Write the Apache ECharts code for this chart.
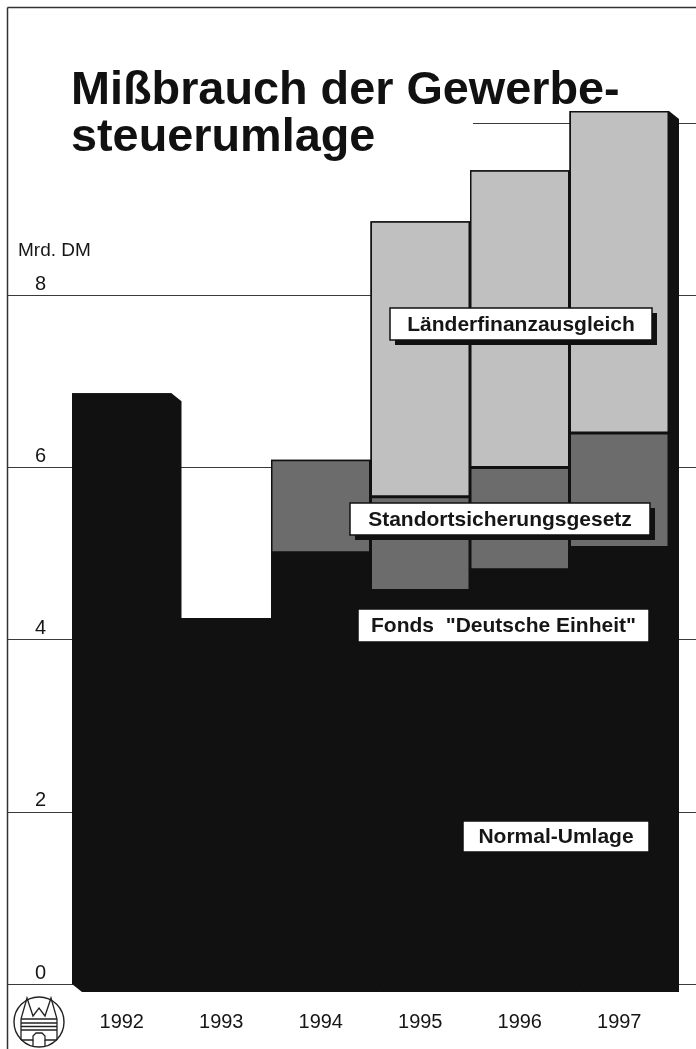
<!DOCTYPE html>
<html>
<head>
<meta charset="utf-8">
<script src="https://cdn.jsdelivr.net/npm/echarts@6/dist/echarts.min.js"></script>
<style>
html,body{margin:0;padding:0;background:#fff;}
#chart{width:696px;height:1049px;}
</style>
</head>
<body>
<div id="chart"></div>
<script>
// ---- data (Mrd. DM) ----
const years = ['1992', '1993', '1994', '1995', '1996', '1997'];
const normalUmlage = [6.86, 4.25, 5.01, 4.57, 4.81, 5.07];      // black (Normal-Umlage / Fonds "Deutsche Einheit")
const standortsicherung = [null, null, 1.08, 1.09, 1.19, 1.33]; // dark grey
const laenderfinanz = [null, null, null, 3.20, 3.45, 3.74];      // light grey
const yMin = 0, yMax = 10, yStep = 2;

const totals = years.map((_, i) => normalUmlage[i] + (standortsicherung[i] || 0) + (laenderfinanz[i] || 0));

const FONT = '"Liberation Sans", Arial, Helvetica, sans-serif';
const INK = '#161616';
const TOPZ = 100;

const chart = echarts.init(document.getElementById('chart'), null, {renderer: 'canvas'});

function labelBox(text, x, y, w, h, shadow) {
  const els = [];
  if (shadow) {
    els.push({type: 'rect', z: TOPZ, shape: {x: x + 5, y: y + 5, width: w, height: h}, style: {fill: '#111'}});
  }
  els.push({type: 'rect', z: TOPZ + 1, shape: {x: x, y: y, width: w, height: h}, style: {fill: '#fff', stroke: '#111', lineWidth: 1.5}});
  els.push({type: 'text', z: TOPZ + 2, style: {text: text, x: x + w / 2, y: y + h / 2 + 1, align: 'center', verticalAlign: 'middle',
    font: 'bold 21px ' + FONT, fill: INK}});
  return els;
}

const LS = {stroke: '#222', lineWidth: 1.3};
const logo = [
  {type: 'circle', z: TOPZ, shape: {cx: 39, cy: 1022, r: 25}, style: {fill: '#fff', stroke: '#222', lineWidth: 1.4}},
  {type: 'polyline', z: TOPZ + 1, shape: {points: [[21, 1019], [27, 998], [33, 1016], [39, 1008], [45, 1016], [51, 998], [57, 1019]]}, style: Object.assign({fill: null}, LS)},
  {type: 'line', z: TOPZ + 1, shape: {x1: 21, y1: 1019, x2: 57, y2: 1019}, style: LS},
  {type: 'line', z: TOPZ + 1, shape: {x1: 21, y1: 1023, x2: 57, y2: 1023}, style: LS},
  {type: 'line', z: TOPZ + 1, shape: {x1: 21, y1: 1026.5, x2: 57, y2: 1026.5}, style: LS},
  {type: 'line', z: TOPZ + 1, shape: {x1: 21, y1: 1030, x2: 57, y2: 1030}, style: LS},
  {type: 'line', z: TOPZ + 1, shape: {x1: 21, y1: 1019, x2: 21, y2: 1040}, style: LS},
  {type: 'line', z: TOPZ + 1, shape: {x1: 57, y1: 1019, x2: 57, y2: 1040}, style: LS},
  {type: 'polyline', z: TOPZ + 1, shape: {points: [[21, 1040], [33, 1040], [33, 1036], [36, 1033], [42, 1033], [45, 1036], [45, 1040], [57, 1040]]}, style: Object.assign({fill: null}, LS)},
  {type: 'line', z: TOPZ + 1, shape: {x1: 33, y1: 1040, x2: 33, y2: 1046}, style: LS},
  {type: 'line', z: TOPZ + 1, shape: {x1: 45, y1: 1040, x2: 45, y2: 1046}, style: LS}
];

const option = {
  backgroundColor: '#ffffff',
  animation: false,
  grid: [
    {left: 8, right: 0, top: 123, bottom: 65},
    {left: 72, right: 27, top: 123, bottom: 65}
  ],
  xAxis: [
    {gridIndex: 0, type: 'value', min: 0, max: 1, show: false},
    {gridIndex: 1, type: 'category', data: years,
      axisLine: {show: false}, axisTick: {show: false},
      axisLabel: {margin: 28, fontSize: 20, color: INK, fontFamily: FONT}}
  ],
  yAxis: [
    {gridIndex: 0, type: 'value', min: yMin, max: yMax, interval: yStep,
      axisLine: {show: false}, axisTick: {show: false},
      axisLabel: {inside: true, margin: 27, align: 'left', verticalAlign: 'bottom', padding: [0, 0, 1, 0],
        fontSize: 20, color: INK, fontFamily: FONT,
        formatter: v => (v === yMax ? '' : String(v))},
      splitLine: {show: true, lineStyle: {color: '#3a3a3a', width: 1.2}}},
    {gridIndex: 1, type: 'value', min: yMin, max: yMax, interval: yStep, show: false, splitLine: {show: false}}
  ],
  series: [
    {
      type: 'custom', name: 'Tiefe', xAxisIndex: 1, yAxisIndex: 1, z: 1, clip: false, silent: true,
      data: years.map((_, i) => [i, totals[i]]),
      renderItem: function (params, api) {
        const i = api.value(0), t = api.value(1);
        const top = api.coord([i, t]);
        const base = api.coord([i, 0]);
        const w = api.size([1, 0])[0];
        const x0 = top[0] - w / 2, x1 = top[0] + w / 2;
        const dx = 10, dy = 8;
        return {type: 'polygon', shape: {points: [[x0, top[1]], [x1, top[1]], [x1 + dx, top[1] + dy], [x1 + dx, base[1] + dy], [x0 + dx, base[1] + dy], [x0, base[1]]]},
          style: {fill: '#111'}};
      }
    },
    {
      type: 'bar', name: 'Normal-Umlage', xAxisIndex: 1, yAxisIndex: 1, stack: 'g', z: 2, clip: false,
      barWidth: '100%', barCategoryGap: '0%',
      itemStyle: {color: '#111', borderColor: '#111', borderWidth: 1.5},
      data: normalUmlage.map(v => (v == null ? '-' : v))
    },
    {
      type: 'bar', name: 'Standortsicherungsgesetz', xAxisIndex: 1, yAxisIndex: 1, stack: 'g', z: 2, clip: false,
      barWidth: '100%', barCategoryGap: '0%',
      itemStyle: {color: '#6c6c6c', borderColor: '#111', borderWidth: 1.5},
      data: standortsicherung.map(v => (v == null ? '-' : v))
    },
    {
      type: 'bar', name: 'Länderfinanzausgleich', xAxisIndex: 1, yAxisIndex: 1, stack: 'g', z: 2, clip: false,
      barWidth: '100%', barCategoryGap: '0%',
      itemStyle: {color: '#c0c0c0', borderColor: '#111', borderWidth: 1.5},
      data: laenderfinanz.map(v => (v == null ? '-' : v))
    }
  ],
  graphic: [
    // white backdrop of the title, hiding the top grid line behind it
    {type: 'rect', z: 5, shape: {x: 8, y: 100, width: 465, height: 50}, style: {fill: '#fff'}},
    // frame
    {type: 'line', z: TOPZ, shape: {x1: 7.5, y1: 7.5, x2: 696, y2: 7.5}, style: {stroke: '#333', lineWidth: 1.5}},
    {type: 'line', z: TOPZ, shape: {x1: 7.5, y1: 7.5, x2: 7.5, y2: 1049}, style: {stroke: '#333', lineWidth: 1.5}},
    // title
    {type: 'text', z: TOPZ, style: {text: 'Mißbrauch der Gewerbe-', x: 71, y: 91, align: 'left', verticalAlign: 'middle',
      font: 'bold 46.8px ' + FONT, fill: '#111'}},
    {type: 'text', z: TOPZ, style: {text: 'steuerumlage', x: 71, y: 138, align: 'left', verticalAlign: 'middle',
      font: 'bold 46.8px ' + FONT, fill: '#111'}},
    // unit
    {type: 'text', z: TOPZ, style: {text: 'Mrd. DM', x: 18, y: 251, align: 'left', verticalAlign: 'middle',
      font: '19px ' + FONT, fill: INK}}
  ]
    .concat(labelBox('Länderfinanzausgleich', 390, 308, 262, 32, true))
    .concat(labelBox('Standortsicherungsgesetz', 350, 503, 300, 32, true))
    .concat(labelBox('Fonds  "Deutsche Einheit"', 358, 609, 291, 33, false))
    .concat(labelBox('Normal-Umlage', 463, 821, 186, 31, false))
    .concat(logo)
};

chart.setOption(option);
</script>
</body>
</html>
